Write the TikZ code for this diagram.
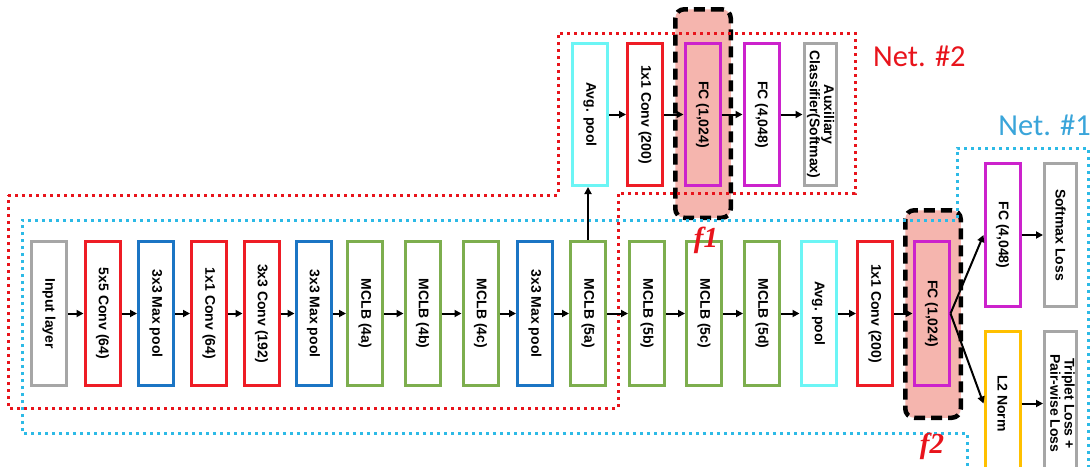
\documentclass[tikz,border=0pt]{standalone}
\usepackage{fontspec}
\setmainfont{Liberation Sans}
\newfontfamily\netfont{Carlito}
\newfontfamily\ffont{Liberation Serif}
\usepackage{graphicx}
\usetikzlibrary{arrows.meta}
\definecolor{cgray}{HTML}{A6A6A6}
\definecolor{cred}{HTML}{EE1C25}
\definecolor{cblue}{HTML}{1B75C4}
\definecolor{cgreen}{HTML}{7DAE4E}
\definecolor{ccyan}{HTML}{6CF5F5}
\definecolor{cmag}{HTML}{CC22CC}
\definecolor{cyel}{HTML}{FFC000}
\definecolor{cpink}{HTML}{F5B5AE}
\definecolor{netred}{HTML}{E8141C}
\definecolor{netcyan}{HTML}{2DBAE6}
\definecolor{netblue}{HTML}{3AA5DA}
\newcommand{\rt}[1]{\rotatebox{-90}{#1}}
\begin{document}
\begin{tikzpicture}[x=1pt,y=-1pt,
  layer/.style={draw=#1, line width=3pt, fill=white, minimum width=35pt,
    minimum height=144pt, inner sep=0pt,
    font=\bfseries\fontsize{14}{13.5}\selectfont, align=center},
  fclayer/.style={layer=cmag, fill=none},
  fbox/.style={draw=black, line width=4.5pt, dash pattern=on 11pt off 6pt,
    rounded corners=9pt, fill=cpink, minimum width=55.5pt, inner sep=0pt},
  arr/.style={-{Triangle[length=7pt,width=7pt]}, line width=2pt, black},
  reddots/.style={draw=netred, line width=3pt, dash pattern=on 3pt off 4pt},
  cyandots/.style={draw=netcyan, line width=3pt, dash pattern=on 3pt off 4pt},
  flabel/.style={text=netred, inner sep=0pt, font=\ffont\bfseries\itshape\fontsize{29}{29}\selectfont},
  netlabel/.style={inner sep=0pt, font=\netfont\fontsize{30.5}{30.5}\selectfont}
]
\useasboundingbox (0,0) rectangle (1091,466);
\fill[white] (0,0) rectangle (1091,466);
\clip (0,0) rectangle (1091,466);

% feature boxes
\node[fbox, minimum height=208.5pt] (f1) at (703,113.5) {};
\node[fbox, minimum height=207.5pt] (f2) at (933,314) {};

% network outlines
\draw[reddots] (8,195) -- (558,195) -- (558,33) -- (855,33) -- (855,193)
  -- (618,193) -- (618,408) -- (8,408) -- cycle;
\draw[cyandots] (967,480) -- (967,433) -- (22,433) -- (22,220) -- (957,220)
  -- (957,148) -- (1088,148) -- (1088,480);

% bottom row
\node[layer=cgray]  (b1)  at (49,313.5)    {\rt{Input layer}};
\node[layer=cred]   (b2)  at (102.5,313.5) {\rt{5x5 Conv (64)}};
\node[layer=cblue]  (b3)  at (156,313.5)   {\rt{3x3 Max pool}};
\node[layer=cred]   (b4)  at (209,313.5)   {\rt{1x1 Conv (64)}};
\node[layer=cred]   (b5)  at (261.5,313.5) {\rt{3x3 Conv (192)}};
\node[layer=cblue]  (b6)  at (313.5,313.5) {\rt{3x3 Max pool}};
\node[layer=cgreen] (b7)  at (365,313.5)   {\rt{MCLB (4a)}};
\node[layer=cgreen] (b8)  at (422.5,313.5) {\rt{MCLB (4b)}};
\node[layer=cgreen] (b9)  at (480.5,313.5) {\rt{MCLB (4c)}};
\node[layer=cblue]  (b10) at (535,313.5)   {\rt{3x3 Max pool}};
\node[layer=cgreen] (b11) at (588,313.5)   {\rt{MCLB (5a)}};
\node[layer=cgreen] (b12) at (647,313.5)   {\rt{MCLB (5b)}};
\node[layer=cgreen] (b13) at (704,313.5)   {\rt{MCLB (5c)}};
\node[layer=cgreen] (b14) at (762,313.5)   {\rt{MCLB (5d)}};
\node[layer=ccyan]  (b15) at (818.5,313.5) {\rt{Avg. pool}};
\node[layer=cred]   (b16) at (875,313.5)   {\rt{1x1 Conv (200)}};
\node[fclayer]      (b17) at (931.5,313.5) {\rt{FC (1,024)}};

% top row (auxiliary)
\node[layer=ccyan, minimum height=142pt] (t1) at (590,114.5)   {\rt{Avg. pool}};
\node[layer=cred, minimum height=142pt]  (t2) at (645,114.5)   {\rt{1x1 Conv (200)}};
\node[fclayer, minimum height=142pt]     (t3) at (702.5,114.5) {\rt{FC (1,024)}};
\node[layer=cmag, minimum height=142pt]  (t4) at (761.5,114.5) {\rt{FC (4,048)}};
\node[layer=cgray, minimum height=142pt, minimum width=32pt] (t5) at (820,114.5)
  {\rt{\begin{tabular}{@{}c@{}}Auxiliary\\Classifier(Softmax)\end{tabular}}};

% right branch
\node[layer=cmag, minimum height=143pt]  (r1) at (1002.5,235)  {\rt{FC (4,048)}};
\node[layer=cgray, minimum height=143pt, minimum width=32pt] (r2) at (1060.5,235) {\rt{Softmax Loss}};
\node[layer=cyel]  (r3) at (1002.5,403.5) {\rt{L2 Norm}};
\node[layer=cgray, minimum width=32pt] (r4) at (1060.5,403.5)
  {\rt{\begin{tabular}{@{}c@{}}Triplet Loss +\\Pair-wise Loss\end{tabular}}};

% arrows
\foreach \a/\b in {b1/b2,b2/b3,b3/b4,b4/b5,b5/b6,b6/b7,b7/b8,b8/b9,b9/b10,
  b10/b11,b11/b12,b12/b13,b13/b14,b14/b15,b15/b16,b16/b17,t1/t2,t2/t3,t3/t4,t4/t5,r1/r2,r3/r4}
  \draw[arr] (\a.east) -- (\b.west);
\draw[arr] (b11.north) -- (b11.north |- t1.south);
\draw[arr] (b17.east) -- (r1.west);
\draw[arr] (b17.east) -- (r3.west);

% labels
\node[flabel] (lf1) at (706,240) {f1};
\node[flabel] (lf2) at (932,446) {f2};
\node[netlabel, text=netred, anchor=west] (n2) at (873,56) {Net. \#2};
\node[netlabel, text=netblue, anchor=east] (n1) at (1091,125) {Net. \#1};
\end{tikzpicture}
\end{document}
